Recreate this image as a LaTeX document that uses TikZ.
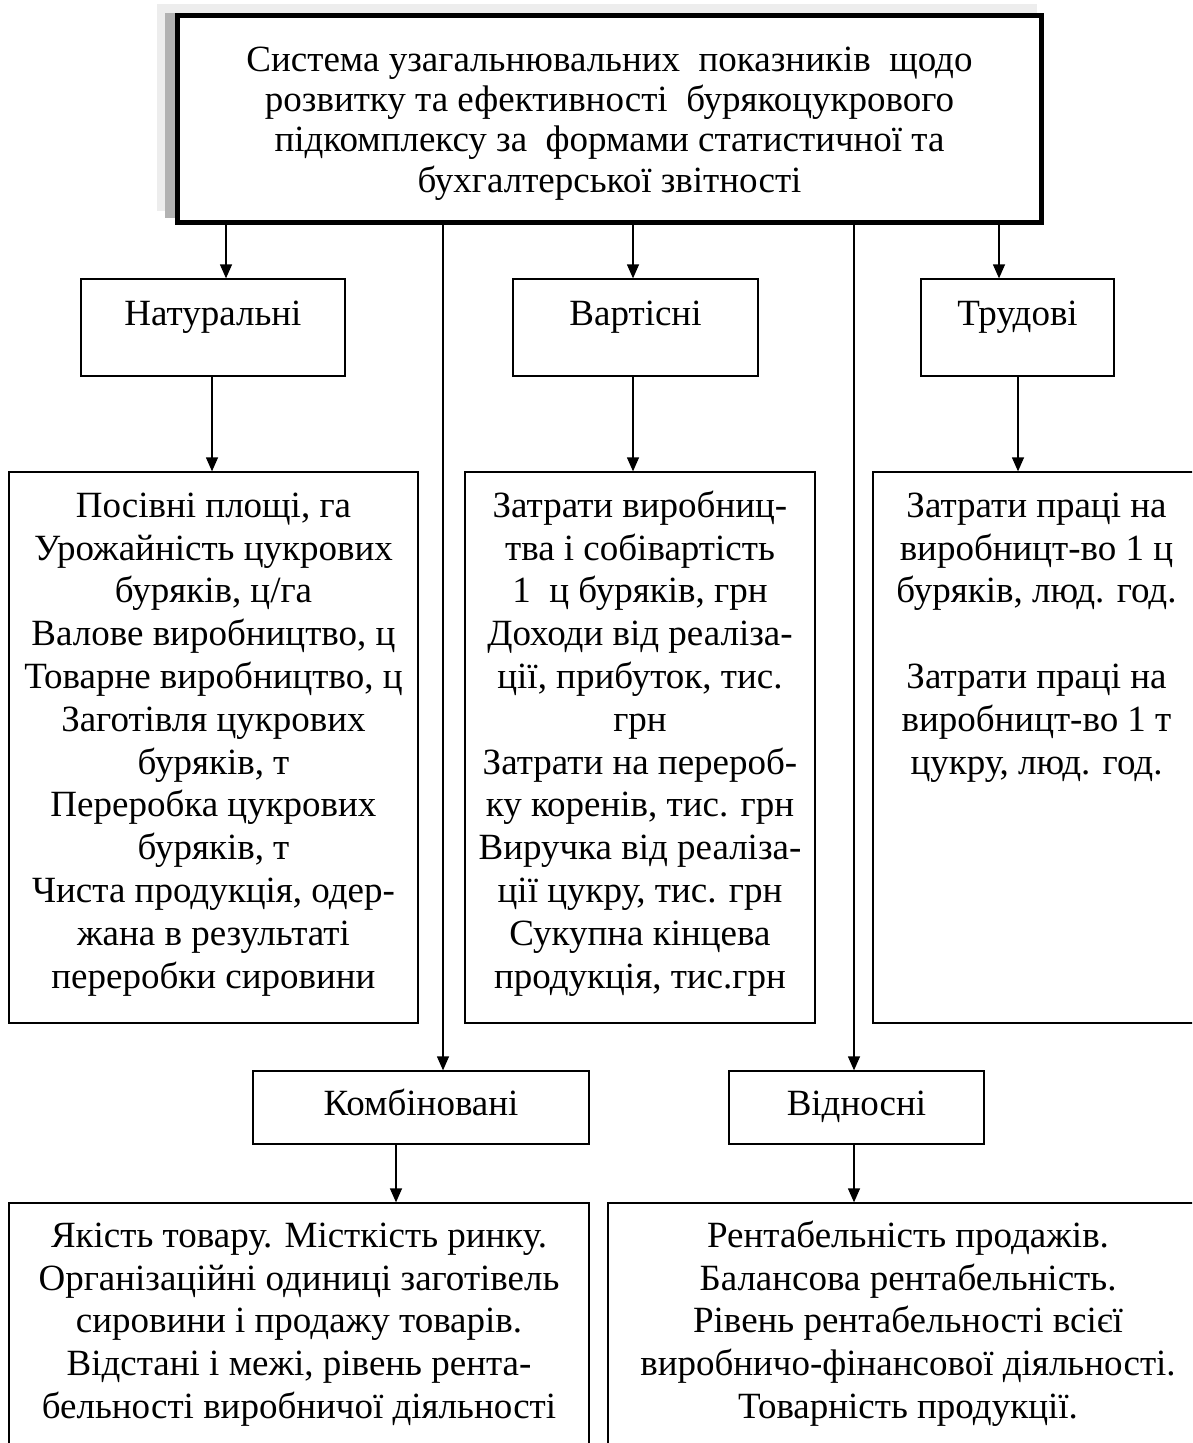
\documentclass[tikz,border=0pt]{standalone}
\usepackage{fontspec}
\setmainfont{Liberation Serif}
\usetikzlibrary{arrows.meta}
\newcommand{\fl}{\rule{0pt}{30pt}}
\begin{document}
\begin{tikzpicture}[x=1pt,y=-1pt,
  box/.style={draw=black, line width=1.3pt, inner sep=0pt, rectangle},
  txt/.style={anchor=north, inner sep=0pt, align=center, font=\fontsize{37}{42.8}\selectfont},
  arr/.style={line width=1.3pt, -{Triangle[width=12pt,length=14pt]}},
  ln/.style={line width=1.3pt}]
\useasboundingbox (0,0) rectangle (1192,1443);
\clip (0,0) rectangle (1192,1443);
\fill[white] (0,0) rectangle (1192,1443);
% shadow of the title box
\fill[black!7] (157,4) rectangle (1037,211);
\fill[black!30] (165,13) rectangle (1040,218);
% title box
\node[box, line width=5pt, fill=white, minimum width=864pt, minimum height=207pt] (top) at (609.5,119) {};
\node[txt, font=\fontsize{37}{40.3}\selectfont] (toptxt) at (609.5,41)
  {\fl Система узагальнювальних~ показників~ щодо\\
   розвитку та ефективності~ бурякоцукрового\\
   підкомплексу за~ формами статистичної та\\
   бухгалтерської звітності};
% second row
\node[box, minimum width=264pt, minimum height=97pt] (nat) at (213,327.5) {};
\node[box, minimum width=245pt, minimum height=97pt] (vart) at (635.5,327.5) {};
\node[box, minimum width=193pt, minimum height=97pt] (trud) at (1017.5,327.5) {};
\node[txt] (nattxt) at (213,295) {\fl Натуральні};
\node[txt] (varttxt) at (635.5,295) {\fl Вартісні};
\node[txt] (trudtxt) at (1017.5,295) {\fl Трудові};
% third row
\node[box, minimum width=409pt, minimum height=551pt] (l3) at (213.5,747.5) {};
\node[box, minimum width=350pt, minimum height=551pt] (m3) at (640,747.5) {};
\node[box, minimum width=327pt, minimum height=551pt] (r3) at (1036.5,747.5) {};
\node[txt] (l3txt) at (213.5,487)
  {\fl Посівні площі, га\\
   Урожайність цукрових\\
   буряків, ц/га\\
   Валове виробництво, ц\\
   Товарне виробництво, ц\\
   Заготівля цукрових\\
   буряків, т\\
   Переробка цукрових\\
   буряків, т\\
   Чиста продукція, одер-\\
   жана в результаті\\
   переробки сировини};
\node[txt] (m3txt) at (640,487)
  {\fl Затрати виробниц-\\
   тва і собівартість\\
   1~ ц буряків, грн\\
   Доходи від реаліза-\\
   ції, прибуток, тис.\\
   грн\\
   Затрати на перероб-\\
   ку коренів, тис. грн\\
   Виручка від реаліза-\\
   ції цукру, тис. грн\\
   Сукупна кінцева\\
   продукція, тис.грн};
\node[txt] (r3txt) at (1036.5,487)
  {\fl Затрати праці на\\
   виробницт-во 1 ц\\
   буряків, люд. год.\\[42.8pt]
   Затрати праці на\\
   виробницт-во 1 т\\
   цукру, люд. год.};
% fourth row
\node[box, minimum width=336pt, minimum height=73pt] (komb) at (421,1107.5) {};
\node[box, minimum width=255pt, minimum height=73pt] (vidn) at (856.5,1107.5) {};
\node[txt] (kombtxt) at (421,1085) {\fl Комбіновані};
\node[txt] (vidntxt) at (856.5,1085) {\fl Відносні};
% bottom row
\node[box, minimum width=580pt, minimum height=267pt] (bl) at (299,1336.5) {};
\node[box, minimum width=600pt, minimum height=267pt] (br) at (908,1336.5) {};
\node[txt] (bltxt) at (299,1217)
  {\fl Якість товару. Місткість ринку.\\
   Організаційні одиниці заготівель\\
   сировини і продажу товарів.\\
   Відстані і межі, рівень рента-\\
   бельності виробничої діяльності};
\node[txt] (brtxt) at (908,1217)
  {\fl Рентабельність продажів.\\
   Балансова рентабельність.\\
   Рівень рентабельності всієї\\
   виробничо-фінансової діяльності.\\
   Товарність продукції.};
% connector x positions
\coordinate (xa) at (226,0);
\coordinate (xb) at (633,0);
\coordinate (xc) at (999,0);
\coordinate (xd) at (443,0);
\coordinate (xe) at (854,0);
\coordinate (xf) at (212,0);
\coordinate (xg) at (1018,0);
\coordinate (xh) at (396,0);
% connectors
\draw[arr] (top.south -| xa) -- (nat.north -| xa);
\draw[arr] (top.south -| xb) -- (vart.north -| xb);
\draw[arr] (top.south -| xc) -- (trud.north -| xc);
\draw[arr] (top.south -| xd) -- (komb.north -| xd);
\draw[arr] (top.south -| xe) -- (vidn.north -| xe);
\draw[arr] (nat.south -| xf) -- (l3.north -| xf);
\draw[arr] (vart.south -| xb) -- (m3.north -| xb);
\draw[arr] (trud.south -| xg) -- (r3.north -| xg);
\draw[arr] (komb.south -| xh) -- (bl.north -| xh);
\draw[arr] (vidn.south -| xe) -- (br.north -| xe);
\end{tikzpicture}
\end{document}
